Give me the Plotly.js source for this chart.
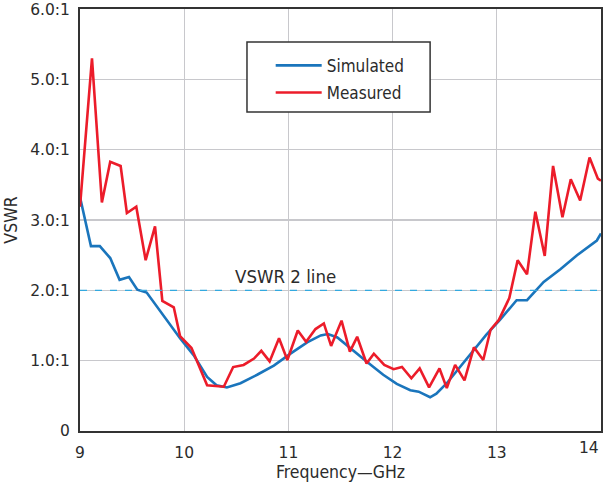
<!DOCTYPE html>
<html>
<head>
<meta charset="utf-8">
<script src="https://cdn.plot.ly/plotly-3.0.1.min.js"></script>
<style>html,body{margin:0;padding:0;background:#fff}#chart{width:611px;height:482px}</style>
</head>
<body>
<div id="chart"></div>
<script>
var simFreq = [9.0, 9.105, 9.19, 9.29, 9.38, 9.47, 9.55, 9.64, 9.96, 10.09, 10.22, 10.31, 10.41, 10.54, 10.70, 10.86, 11.02, 11.18, 11.31, 11.38, 11.47, 11.59, 11.75, 11.91, 12.04, 12.17, 12.25, 12.36, 12.42, 12.52, 12.71, 12.90, 13.03, 13.19, 13.29, 13.45, 13.61, 13.77, 13.96, 14.0];
var simVSWR = [3.33, 2.63, 2.63, 2.46, 2.15, 2.19, 2.01, 1.97, 1.32, 1.08, 0.77, 0.65, 0.62, 0.68, 0.80, 0.93, 1.10, 1.26, 1.36, 1.38, 1.33, 1.18, 0.99, 0.80, 0.67, 0.58, 0.56, 0.48, 0.53, 0.68, 1.02, 1.37, 1.58, 1.86, 1.86, 2.12, 2.30, 2.50, 2.71, 2.81];

var measFreq = [9.0, 9.115, 9.21, 9.29, 9.39, 9.45, 9.54, 9.63, 9.72, 9.79, 9.90, 9.96, 10.07, 10.22, 10.38, 10.47, 10.57, 10.67, 10.74, 10.82, 10.91, 10.99, 11.09, 11.17, 11.26, 11.34, 11.41, 11.51, 11.59, 11.66, 11.75, 11.82, 11.92, 12.01, 12.09, 12.18, 12.26, 12.35, 12.45, 12.52, 12.60, 12.69, 12.78, 12.87, 12.94, 13.02, 13.12, 13.20, 13.29, 13.37, 13.46, 13.54, 13.63, 13.71, 13.80, 13.89, 13.97, 14.0];
var measVSWR = [3.19, 5.30, 3.25, 3.83, 3.77, 3.10, 3.19, 2.43, 2.91, 1.85, 1.76, 1.35, 1.18, 0.65, 0.63, 0.91, 0.94, 1.03, 1.14, 0.99, 1.32, 1.01, 1.43, 1.27, 1.45, 1.53, 1.21, 1.57, 1.13, 1.34, 0.96, 1.10, 0.94, 0.88, 0.91, 0.75, 0.89, 0.62, 0.89, 0.61, 0.94, 0.72, 1.19, 1.01, 1.44, 1.58, 1.89, 2.43, 2.23, 3.12, 2.49, 3.77, 3.04, 3.58, 3.28, 3.89, 3.59, 3.56];

var yTickVals = [0, 1, 2, 3, 4, 5, 6];
var yTickText = ["0", "1.0:1", "2.0:1", "3.0:1", "4.0:1", "5.0:1", "6.0:1"];
var xTickVals = [9, 10, 11, 12, 13, 14];
var xTickText = ["9", "10", "11", "12", "13", "14"];
var refLevel = 2;
var refLabel = "VSWR 2 line";

var FONT = "'DejaVu Sans', sans-serif";
var CFONT = "'DejaVu Sans Condensed', 'DejaVu Sans', sans-serif";
var TXT = "#2b2b2b";

var traces = [
  {x: simFreq, y: simVSWR, type: "scatter", mode: "lines", name: "Simulated", legendgroup: "a",
   line: {color: "#1a75bc", width: 2.6}},
  {x: measFreq, y: measVSWR, type: "scatter", mode: "lines", name: "Measured", legendgroup: "b",
   line: {color: "#ec1c2a", width: 2.6}}
];

var nLast = xTickVals.length - 1;

var layout = {
  width: 611, height: 482,
  margin: {l: 80, r: 10, t: 9, b: 51},
  paper_bgcolor: "#fff", plot_bgcolor: "#fff",
  font: {family: FONT, size: 15, color: TXT},
  showlegend: true,
  legend: {x: 0.366, y: 0.908, xanchor: "left", yanchor: "top", bgcolor: "rgba(0,0,0,0)",
           traceorder: "grouped", tracegroupgap: 2,
           font: {family: CFONT, size: 17, color: TXT}, itemwidth: 46},
  xaxis: {range: [9, 14.0], tickvals: xTickVals.slice(0, nLast), ticktext: xTickText.slice(0, nLast),
          showgrid: true, gridcolor: "#c8c8cc", gridwidth: 1.3, zeroline: false,
          showline: true, linecolor: "#333", linewidth: 2, mirror: true,
          ticks: "", ticklabelstandoff: 6,
          tickfont: {family: FONT, size: 15.5, color: TXT},
          title: {text: "Frequency\u2014GHz", font: {family: CFONT, size: 17.5, color: TXT}, standoff: 5}},
  yaxis: {range: [0, 6.003], tickvals: yTickVals, ticktext: yTickText,
          showgrid: true, gridcolor: "#c8c8cc", gridwidth: 1.3, zeroline: false,
          showline: true, linecolor: "#333", linewidth: 2, mirror: true,
          ticks: "", ticklabelstandoff: 5,
          tickfont: {family: FONT, size: 15.5, color: TXT},
          title: {text: "VSWR", font: {family: CFONT, size: 17.5, color: TXT}, standoff: 8}},
  shapes: [
    {type: "line", xref: "paper", x0: 0, x1: 1, yref: "y", y0: refLevel, y1: refLevel,
     line: {color: "#33a9df", width: 1.4, dash: "7px,8px"}, layer: "above"},
    {type: "rect", xref: "paper", yref: "paper", x0: 0.3205, x1: 0.672, y0: 0.756, y1: 0.922,
     fillcolor: "#fff", line: {color: "#333", width: 1.5}, layer: "above"}
  ],
  annotations: [
    {x: 10.97, y: refLevel, xref: "x", yref: "y", yanchor: "bottom", yshift: 1,
     text: refLabel, showarrow: false, font: {family: CFONT, size: 18.5, color: TXT}},
    {x: xTickVals[nLast], y: 0, xref: "x", yref: "y", xanchor: "right", yanchor: "top", yshift: -6,
     text: xTickText[nLast], showarrow: false, font: {family: FONT, size: 15.5, color: TXT}}
  ]
};

Plotly.newPlot("chart", traces, layout, {displayModeBar: false, staticPlot: true});
</script>
</body>
</html>
